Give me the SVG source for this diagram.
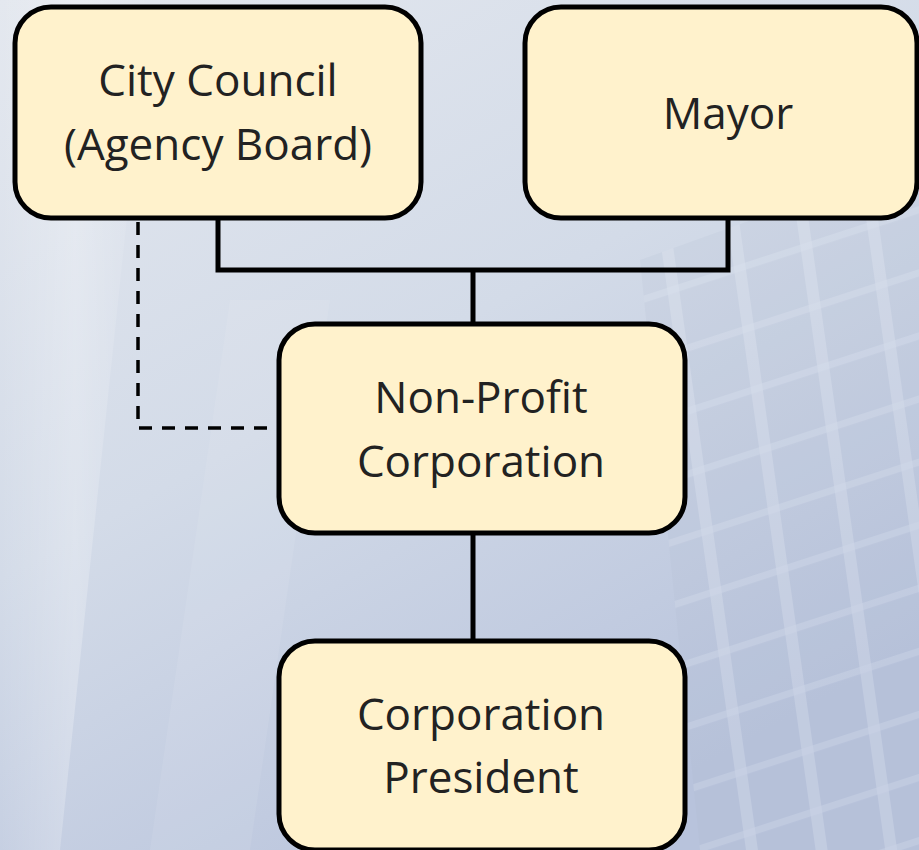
<svg xmlns="http://www.w3.org/2000/svg" width="919" height="850" viewBox="0 0 919 850">
<defs>
<linearGradient id="bg" x1="0" y1="0" x2="0.6" y2="1">
<stop offset="0" stop-color="#e4e8ef"/>
<stop offset="0.5" stop-color="#d3dbe8"/>
<stop offset="1" stop-color="#b8c3dc"/>
</linearGradient>
<linearGradient id="band" x1="0" y1="0" x2="1" y2="0">
<stop offset="0" stop-color="#ffffff" stop-opacity="0"/>
<stop offset="0.5" stop-color="#ffffff" stop-opacity="0.25"/>
<stop offset="1" stop-color="#ffffff" stop-opacity="0"/>
</linearGradient>
<pattern id="grid" width="70" height="60" patternUnits="userSpaceOnUse" patternTransform="rotate(-18) skewX(-10)">
<rect width="70" height="60" fill="#a9b4c8" fill-opacity="0.35"/>
<rect x="0" y="0" width="12" height="60" fill="#e6ebf3" fill-opacity="0.6"/>
<rect x="0" y="0" width="70" height="7" fill="#e6ebf3" fill-opacity="0.5"/>
</pattern>
<style>
.box{fill:#fff2cc;stroke:#000;stroke-width:5}
.lbl{font-family:"Open Sans","Liberation Sans",sans-serif;font-size:44px;fill:#222;text-anchor:middle}
.solid{fill:none;stroke:#000;stroke-width:5}
.dash{fill:none;stroke:#000;stroke-width:3.5;stroke-dasharray:13 10}
</style>
</defs>
<rect width="919" height="850" fill="url(#bg)"/>
<polygon points="0,0 150,0 60,850 0,850" fill="url(#band)"/>
<polygon points="640,260 919,160 919,850 700,850" fill="url(#grid)" opacity="0.4"/>
<polygon points="230,300 330,300 250,850 150,850" fill="#ffffff" opacity="0.08"/>
<g id="connectors">
<path class="solid" d="M218,218 V270 H728 V218"/>
<path class="solid" d="M473,270 V324"/>
<path class="solid" d="M473,533 V641"/>
<path class="dash" d="M138,222 V428 H278"/>
</g>
<g id="city-council">
<rect class="box" x="15" y="7" width="406" height="211" rx="36"/>
<text class="lbl" x="218" y="96">City Council</text>
<text class="lbl" x="218" y="160">(Agency Board)</text>
</g>
<g id="mayor">
<rect class="box" x="525" y="7" width="392" height="211" rx="36"/>
<text class="lbl" x="728" y="129">Mayor</text>
</g>
<g id="non-profit">
<rect class="box" x="279" y="324" width="406" height="209" rx="36"/>
<text class="lbl" x="481" y="413">Non-Profit</text>
<text class="lbl" x="481" y="477">Corporation</text>
</g>
<g id="president">
<rect class="box" x="279" y="641" width="406" height="209" rx="36"/>
<text class="lbl" x="481" y="730">Corporation</text>
<text class="lbl" x="481" y="793">President</text>
</g>
</svg>
